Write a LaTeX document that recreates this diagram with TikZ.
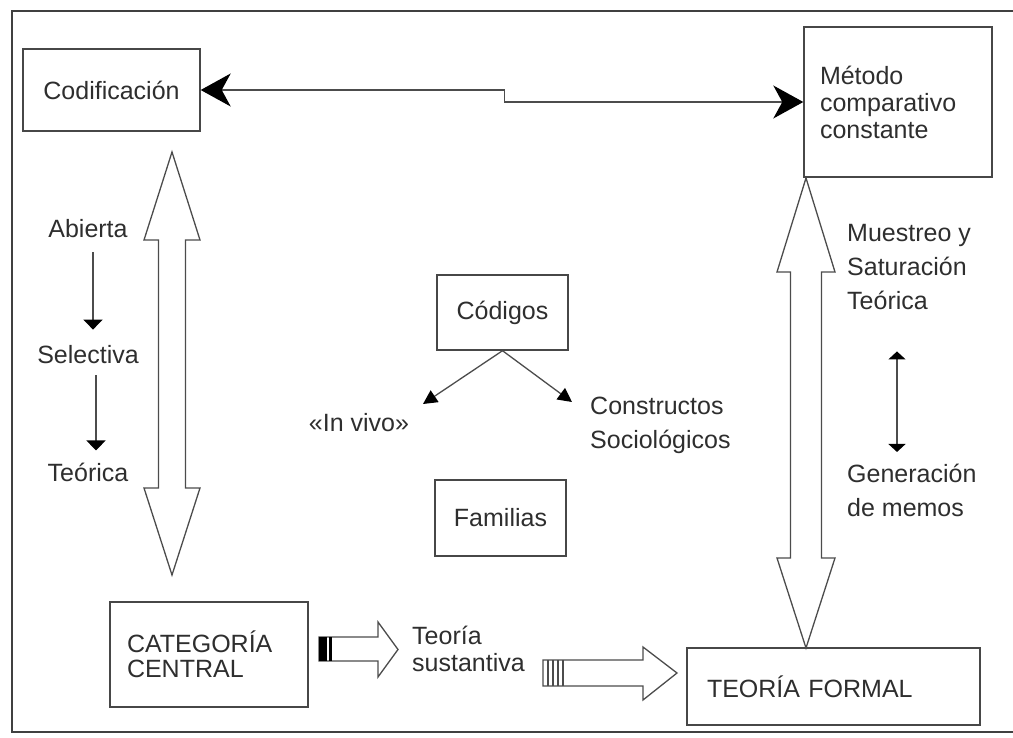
\documentclass[tikz,border=0pt]{standalone}
\usepackage{fontspec}
\setmainfont{Liberation Sans}
\usetikzlibrary{arrows.meta,positioning}

\begin{document}
\begin{tikzpicture}[x=1pt,y=1pt,yscale=-1,
  box/.style={draw=black!72,line width=1.4pt,inner sep=0pt,text=black!82},
  lbl/.style={inner sep=0pt,text=black!82,align=left},
  txt/.style={font=\fontsize{25}{34}\selectfont},
  tight/.style={font=\fontsize{25}{27}\selectfont},
  thin/.style={draw=black!70,line width=1.3pt},
  blk/.style={draw=black!70,line width=1.3pt,fill=white,line join=miter}]
\useasboundingbox (0,0) rectangle (1013,738);

% Frame
\draw[black!75,line width=2.2pt] (1013,11) -- (12,11) -- (12,732) -- (1013,732);

% Boxes
\node[box,txt,minimum width=177pt,minimum height=82pt] (cod) at (111.5,90) {Codificación};
\node[box,tight,align=left,inner xsep=16pt,text width=156pt,minimum height=150pt] (met) at (898,102) {Método\\comparativo\\constante};
\node[box,txt,minimum width=131pt,minimum height=75pt] (codg) at (502.5,312.5) {Códigos};
\node[box,txt,minimum width=131pt,minimum height=76pt] (fam) at (500.5,518) {Familias};
\node[box,align=left,font=\fontsize{25}{25}\selectfont,inner xsep=17pt,text width=164pt,minimum height=105pt] (cat) at (209,654.5) {CATEGORÍA\\CENTRAL};
\node[box,txt,align=left,inner xsep=20pt,text width=253pt,minimum height=77pt] (tf) at (833.5,686.5) {TEORÍA FORMAL};

% Text Node
\node[lbl,txt] (abi) at (88,229) {Abierta};
\node[lbl,txt] (sel) at (88,355) {Selectiva};
\node[lbl,txt] (teo) at (88,472) {Teórica};
\node[lbl,txt] (viv) at (359,423) {«In vivo»};
\node[lbl,txt,anchor=west] (con) at (590,425) {Constructos\\Sociológicos};
\node[lbl,txt,anchor=west] (mue) at (847,267.5) {Muestreo y\\Saturación\\Teórica};
\node[lbl,txt,anchor=west] (gen) at (847,490.5) {Generación\\de memos};
\node[lbl,tight,anchor=west] (sus) at (412,648.5) {Teoría\\sustantiva};

\coordinate (vivtip) at (423,404);
\coordinate (contip) at (572,402);

% Connectors
\draw[thin,{Stealth[length=30pt,width=33pt,inset=9pt,color=black]}-{Stealth[length=30pt,width=33pt,inset=9pt,color=black]}] (cod.east) -- ++(304,0) |- (met.west);
\draw[thin,-{Triangle[length=10pt,width=19pt,color=black]},shorten <=14pt,shorten >=16pt] ([xshift=5pt]abi.south) -- ([xshift=5pt]sel.north);
\draw[thin,-{Triangle[length=10pt,width=19pt,color=black]},shorten <=11pt,shorten >=12pt] ([xshift=8pt]sel.south) -- ([xshift=8pt]teo.north);
\draw[thin,-{Triangle[length=14pt,width=14pt,color=black]}] (codg.south) -- (vivtip);
\draw[thin,-{Triangle[length=14pt,width=14pt,color=black]}] (codg.south) -- (contip);
\draw[thin,{Triangle[length=8pt,width=17pt,color=black]}-{Triangle[length=8pt,width=17pt,color=black]},shorten <=41pt,shorten >=12pt] ([xshift=50pt]mue.south west) -- ([xshift=50pt]gen.north west);

%Double Arrow left
\draw[blk] (172,152) -- (200,240) -- (185.5,240) -- (185.5,488) -- (200,488) -- (172,575) -- (144,488) -- (158.5,488) -- (158.5,240) -- (144,240) -- cycle;
%Double Arrow right
\draw[blk] (806,178) -- (835,272) -- (821.5,272) -- (821.5,558) -- (835,558) -- (806,648) -- (777,558) -- (790.5,558) -- (790.5,272) -- (777,272) -- cycle;

%Right Arrow 1
\draw[blk] (319,637) -- (378,637) -- (378,622) -- (398,649.5) -- (378,677) -- (378,661) -- (319,661) -- cycle;
\fill[black] (319,637) rectangle (327,661);
\fill[black] (329,637) rectangle (332,661);
%Right Arrow 2
\draw[blk] (543,660) -- (643,660) -- (643,647) -- (677,673) -- (643,700) -- (643,686) -- (543,686) -- cycle;
\foreach \xs in {548,553,558,563} \draw[thin,line width=1.1pt] (\xs,660) -- (\xs,686);

\end{tikzpicture}
\end{document}
